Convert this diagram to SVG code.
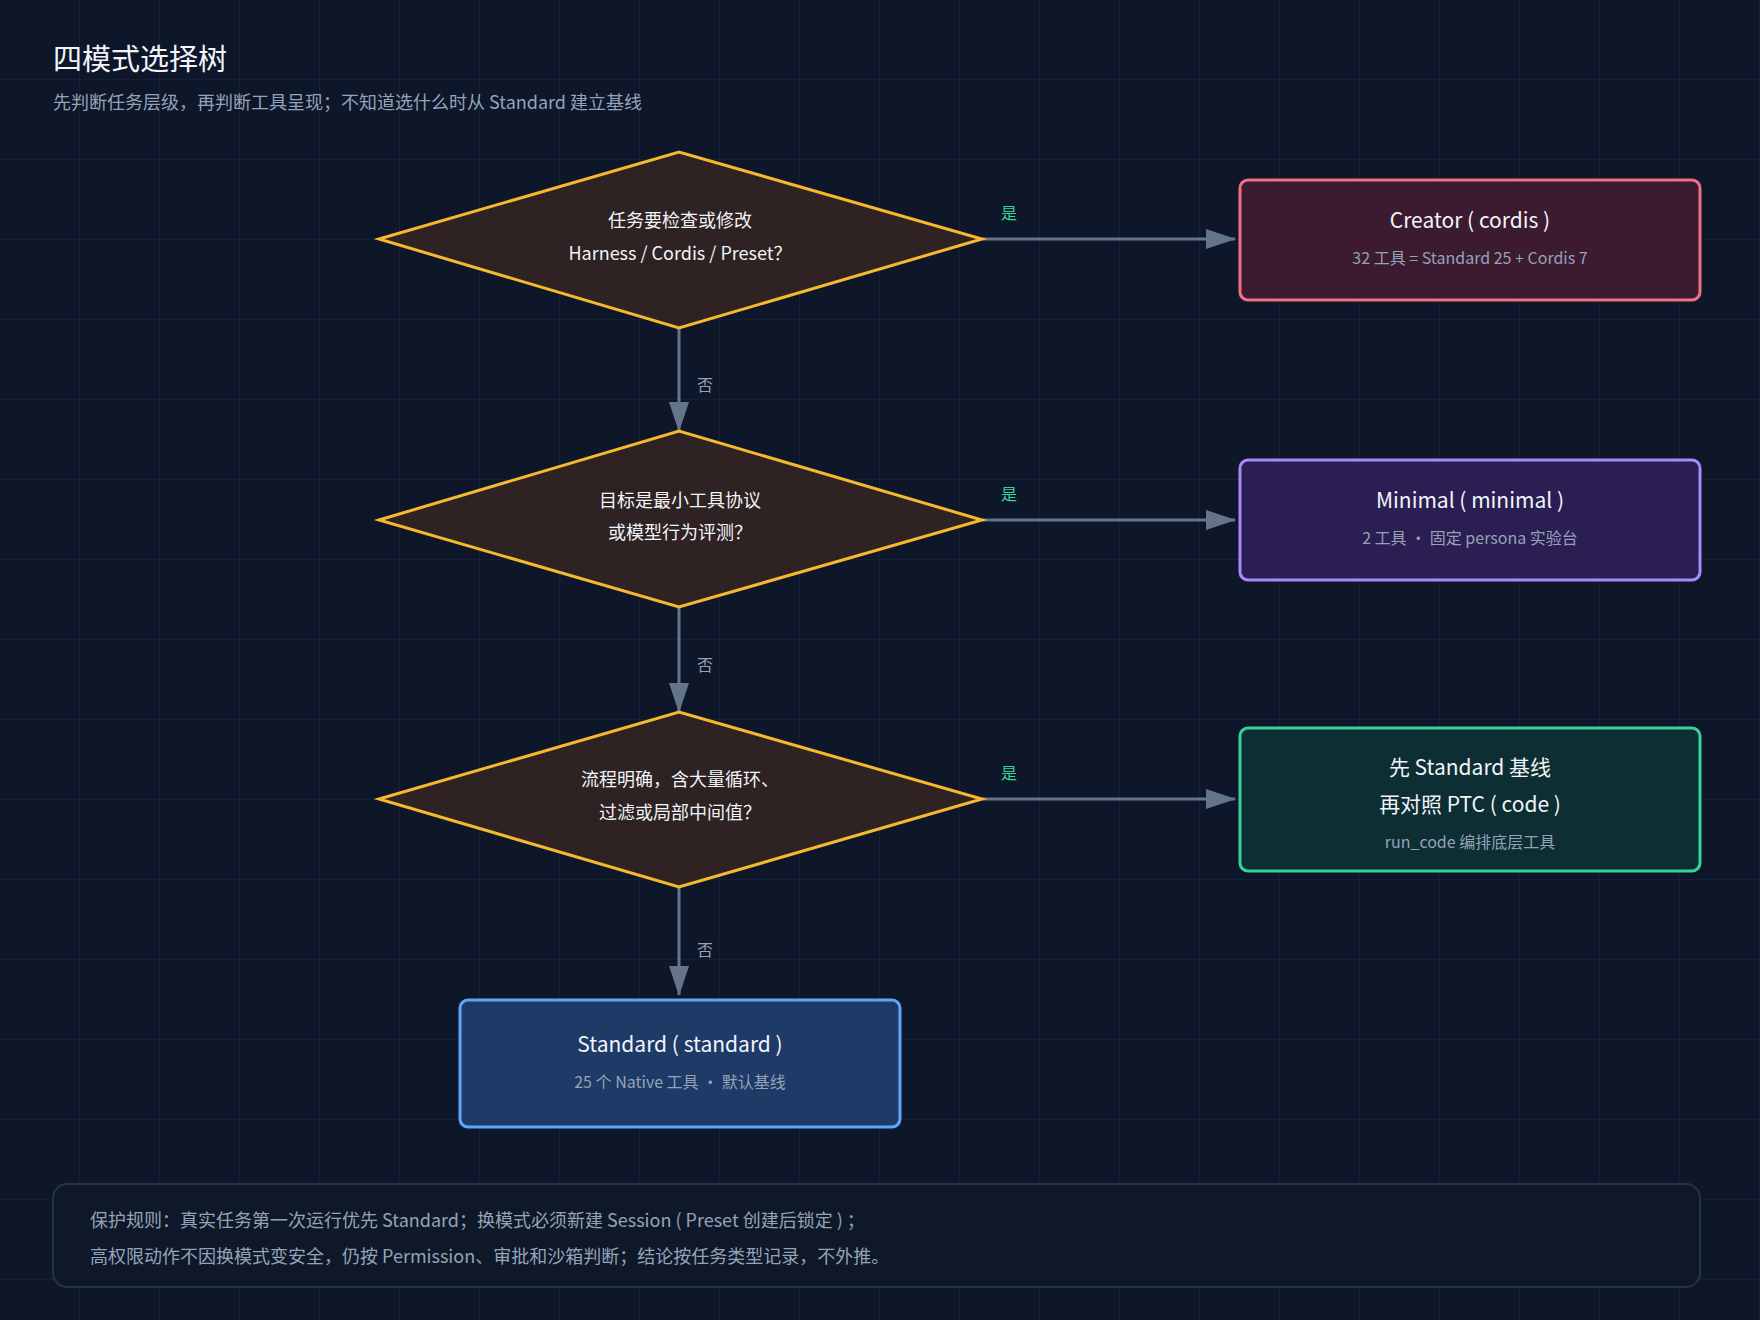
<svg xmlns="http://www.w3.org/2000/svg" width="1760" height="1320" viewBox="0 0 1760 1320">
<defs>
<pattern id="grid" width="80" height="80" patternUnits="userSpaceOnUse"><path d="M80 0V80M0 80H80" fill="none" stroke="#1c2740" stroke-width="1"/></pattern>
<marker id="arr" markerWidth="10" markerHeight="10" refX="9" refY="5" orient="auto" markerUnits="userSpaceOnUse" viewBox="0 0 10 10"><path d="M0 0L10 5L0 10Z" fill="#64748b"/></marker>
<marker id="arrh" markerWidth="30" markerHeight="20" refX="29" refY="10" orient="auto" markerUnits="userSpaceOnUse" viewBox="0 0 30 20"><path d="M0 0L30 10L0 20Z" fill="#64748b"/></marker>
</defs>
<style>
text{font-family:"Noto Sans CJK SC","Noto Sans",sans-serif;text-anchor:middle}
.dia{fill:#2e2222;stroke:#f5b82e;stroke-width:3}
.dt{fill:#f1f5f9;font-size:18px}
.bt{fill:#f1f5f9;font-size:21px}
.bs{fill:#94a3b8;font-size:16px}
.e{stroke:#64748b;stroke-width:3;fill:none;marker-end:url(#arrh)}
.yes{fill:#34d399;font-size:16px}
.no{fill:#94a3b8;font-size:16px}
</style>
<rect width="1760" height="1320" fill="#0e1629"/>
<rect width="1760" height="1320" fill="url(#grid)"/>
<text x="53" y="70" style="text-anchor:start;font-size:29px;fill:#f1f5f9">四模式选择树</text>
<text x="53" y="109" style="text-anchor:start;font-size:18px;fill:#94a3b8">先判断任务层级，再判断工具呈现；不知道选什么时从 Standard 建立基线</text>
<g id="connectors">
<path class="e" d="M982 239H1235"/><text class="yes" x="1009" y="219">是</text>
<path class="e" d="M982 520H1235"/><text class="yes" x="1009" y="500">是</text>
<path class="e" d="M982 799H1235"/><text class="yes" x="1009" y="779">是</text>
<path class="e" d="M679 328V431"/><text class="no" x="705" y="391">否</text>
<path class="e" d="M679 607V712"/><text class="no" x="705" y="671">否</text>
<path class="e" d="M679 887V995"/><text class="no" x="705" y="956">否</text>
</g>
<g id="d1"><path class="dia" d="M379 239L679 152L982 239L679 328Z"/><text class="dt" x="680" y="227">任务要检查或修改</text><text class="dt" x="680" y="260">Harness / Cordis / Preset？</text></g>
<g id="d2"><path class="dia" d="M379 520L679 431L982 520L679 607Z"/><text class="dt" x="680" y="507">目标是最小工具协议</text><text class="dt" x="680" y="539">或模型行为评测？</text></g>
<g id="d3"><path class="dia" d="M379 799L679 712L982 799L679 887Z"/><text class="dt" x="680" y="786">流程明确，含大量循环、</text><text class="dt" x="680" y="819">过滤或局部中间值？</text></g>
<g id="creator"><rect x="1240" y="180" width="460" height="120" rx="8" fill="#3c1a30" stroke="#f07088" stroke-width="3"/><text class="bt" x="1470" y="228">Creator ( cordis )</text><text class="bs" x="1470" y="264">32 工具 = Standard 25 + Cordis 7</text></g>
<g id="minimal"><rect x="1240" y="460" width="460" height="120" rx="8" fill="#2b1e52" stroke="#a78bfa" stroke-width="3"/><text class="bt" x="1470" y="508">Minimal ( minimal )</text><text class="bs" x="1470" y="544">2 工具 · 固定 persona 实验台</text></g>
<g id="ptc"><rect x="1240" y="728" width="460" height="143" rx="8" fill="#0d2e32" stroke="#34d399" stroke-width="3"/><text class="bt" x="1470" y="775">先 Standard 基线</text><text class="bt" x="1470" y="812">再对照 PTC ( code )</text><text class="bs" x="1470" y="848">run_code 编排底层工具</text></g>
<g id="standard"><rect x="460" y="1000" width="440" height="127" rx="8" fill="#1e3a66" stroke="#60a5fa" stroke-width="3"/><text class="bt" x="680" y="1052">Standard ( standard )</text><text class="bs" x="680" y="1088">25 个 Native 工具 · 默认基线</text></g>
<g id="note"><rect x="53" y="1184" width="1647" height="103" rx="14" fill="#0f1829" stroke="#263247" stroke-width="2"/>
<text x="90" y="1227" style="text-anchor:start;font-size:18px;fill:#94a3b8">保护规则：真实任务第一次运行优先 Standard；换模式必须新建 Session ( Preset 创建后锁定 ) ；</text>
<text x="90" y="1263" style="text-anchor:start;font-size:18px;fill:#94a3b8">高权限动作不因换模式变安全，仍按 Permission、审批和沙箱判断；结论按任务类型记录，不外推。</text></g>
</svg>
